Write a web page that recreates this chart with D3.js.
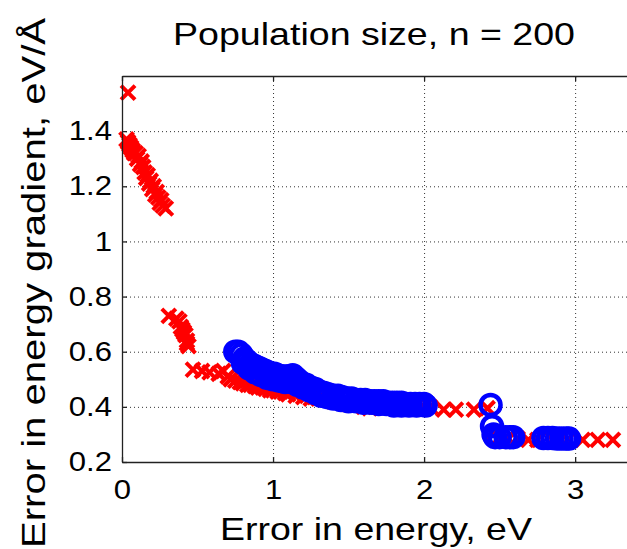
<!DOCTYPE html>
<html>
<head>
<meta charset="utf-8">
<script src="https://cdn.jsdelivr.net/npm/d3@7"></script>
<style>
  body { margin: 0; background: #fff; }
  svg text { font-family: "Liberation Sans", Arial, sans-serif; fill: #000; }
</style>
</head>
<body>
<svg id="chart" width="627" height="549"></svg>
<script>
// red crosses (x = error in energy, y = error in gradient)
var redX = [0.04,
  0.03, 0.04, 0.05, 0.06, 0.07, 0.08, 0.09, 0.10, 0.11, 0.12, 0.13, 0.14, 0.15, 0.16, 0.17, 0.18, 0.19, 0.20, 0.21, 0.22, 0.23, 0.24, 0.25, 0.26, 0.27, 0.29,
  0.31, 0.36, 0.38, 0.39, 0.40, 0.41, 0.42, 0.43, 0.43, 0.44,
  0.47, 0.53, 0.58, 0.64, 0.67, 0.70, 0.72, 0.75, 0.78, 0.80, 0.83, 0.85, 0.88, 0.90, 0.93, 0.95, 0.98, 1.00, 1.03, 1.05, 1.08, 1.10, 1.15, 1.20, 1.25, 1.30, 1.40, 1.50,
  1.60, 1.64, 1.70, 1.80, 1.90, 2.00, 2.04, 2.13, 2.21, 2.33, 2.42,
  2.46, 2.50, 2.56, 2.62, 2.69, 2.75, 2.85, 2.95, 3.05, 3.15, 3.25];
var redY = [1.54,
  1.37, 1.36, 1.35, 1.34, 1.33, 1.32, 1.32, 1.30, 1.31, 1.28, 1.29, 1.27, 1.25, 1.23, 1.24, 1.21, 1.22, 1.19, 1.20, 1.17, 1.18, 1.16, 1.14, 1.15, 1.13, 1.12,
  0.73, 0.72, 0.71, 0.69, 0.68, 0.67, 0.66, 0.64, 0.63, 0.62,
  0.535, 0.53, 0.525, 0.52, 0.53, 0.51, 0.50, 0.495, 0.49, 0.485, 0.48, 0.48, 0.475, 0.47, 0.47, 0.465, 0.46, 0.46, 0.455, 0.455, 0.45, 0.445, 0.44, 0.435, 0.43, 0.43, 0.42, 0.41,
  0.40, 0.395, 0.40, 0.40, 0.40, 0.40, 0.40, 0.39, 0.39, 0.39, 0.395,
  0.305, 0.29, 0.285, 0.285, 0.28, 0.28, 0.28, 0.28, 0.28, 0.28, 0.28];

// blue open circles
var blueX = [0.75, 0.77, 0.79, 0.81, 0.83, 0.85, 0.87, 0.89, 0.91, 0.93, 0.95, 0.97, 0.99, 1.01, 1.03, 1.05, 1.07, 1.09, 1.11, 1.13,
  1.15, 1.17, 1.19, 1.22, 1.25, 1.28, 1.31, 1.34, 1.37, 1.40, 1.43, 1.46, 1.49, 1.52, 1.55, 1.58, 1.61, 1.64, 1.67, 1.70,
  1.73, 1.76, 1.79, 1.82, 1.85, 1.88, 1.91, 1.94, 1.97, 2.00,
  0.80, 0.84, 0.88, 0.92, 0.96, 1.00, 1.04, 1.08, 1.12, 1.16, 1.20, 1.24, 1.28, 1.32, 1.36, 1.40, 1.45, 1.50, 1.55, 1.60,
  1.65, 1.70, 1.75, 1.80, 1.85, 1.90, 1.95, 2.01,
  2.44, 2.45, 2.46, 2.47, 2.50, 2.54, 2.57, 2.59,
  2.79, 2.82, 2.85, 2.88, 2.91, 2.94, 2.96];
var blueY = [0.60, 0.60, 0.59, 0.575, 0.565, 0.555, 0.55, 0.545, 0.54, 0.535, 0.53, 0.525, 0.52, 0.52, 0.515, 0.51, 0.51, 0.51, 0.51, 0.515,
  0.505, 0.495, 0.485, 0.48, 0.47, 0.465, 0.455, 0.45, 0.445, 0.44, 0.44, 0.435, 0.43, 0.43, 0.425, 0.425, 0.425, 0.42, 0.42, 0.42,
  0.42, 0.415, 0.415, 0.415, 0.415, 0.41, 0.41, 0.41, 0.41, 0.41,
  0.56, 0.54, 0.525, 0.515, 0.505, 0.50, 0.495, 0.49, 0.49, 0.48, 0.47, 0.46, 0.45, 0.44, 0.435, 0.43, 0.425, 0.42, 0.42, 0.415,
  0.415, 0.41, 0.41, 0.405, 0.405, 0.405, 0.405, 0.405,
  0.407, 0.33, 0.30, 0.29, 0.29, 0.29, 0.29, 0.29,
  0.287, 0.287, 0.287, 0.285, 0.285, 0.285, 0.285];

var xTicks = [0, 1, 2, 3];
var xTickLabels = ["0", "1", "2", "3"];
var yTicks = [0.2, 0.4, 0.6, 0.8, 1.0, 1.2, 1.4];
var yTickLabels = ["0.2", "0.4", "0.6", "0.8", "1", "1.2", "1.4"];

var svg = d3.select("#chart");
// plot box edges (window.top is taken, so use other names)
var boxL = 122, boxR = 628, boxT = 76, boxB = 462;

var x = d3.scaleLinear().domain([0, 3.35]).range([boxL, boxR]);
var y = d3.scaleLinear().domain([0.2, 1.6]).range([boxB, boxT]);

// stretch text sideways, the original font renders wider than ours
function widen(sel, k) {
  sel.each(function () {
    var w = this.getComputedTextLength();
    d3.select(this).attr("textLength", w * k).attr("lengthAdjust", "spacingAndGlyphs");
  });
}

// dotted grid
var gx = svg.append("g").attr("transform", "translate(0," + boxB + ")")
  .call(d3.axisBottom(x).tickValues(xTicks.filter(function (d) { return d > 0; }))
    .tickSize(-(boxB - boxT)).tickFormat(""));
var gy = svg.append("g").attr("transform", "translate(" + boxL + ",0)")
  .call(d3.axisLeft(y).tickValues(yTicks.filter(function (d) { return d > 0.2; }))
    .tickSize(-(boxR - boxL)).tickFormat(""));
[gx, gy].forEach(function (g) {
  g.select(".domain").remove();
  g.selectAll("line").attr("stroke", "#333").attr("stroke-dasharray", "1,3").attr("stroke-width", 1);
});

// red crosses
var arm = 7;
svg.append("g").selectAll("path").data(redX).enter().append("path")
  .attr("d", function (d, i) {
    var cx = x(d), cy = y(redY[i]);
    return "M" + (cx - arm) + "," + (cy - arm) + "L" + (cx + arm) + "," + (cy + arm) +
      "M" + (cx - arm) + "," + (cy + arm) + "L" + (cx + arm) + "," + (cy - arm);
  })
  .attr("stroke", "#ff0000").attr("stroke-width", 4).attr("fill", "none");

// blue circles
svg.append("g").selectAll("circle").data(blueX).enter().append("circle")
  .attr("cx", function (d) { return x(d); })
  .attr("cy", function (d, i) { return y(blueY[i]); })
  .attr("r", 10)
  .attr("fill", "none").attr("stroke", "#0000ff").attr("stroke-width", 4.5);

// axes, ticks pointing inward
var ax = svg.append("g").attr("transform", "translate(0," + boxB + ")")
  .call(d3.axisBottom(x).tickValues(xTicks).tickSizeInner(-5).tickSizeOuter(0).tickPadding(18)
    .tickFormat(function (d, i) { return xTickLabels[i]; }));
var ay = svg.append("g").attr("transform", "translate(" + boxL + ",0)")
  .call(d3.axisLeft(y).tickValues(yTicks).tickSizeInner(-5).tickSizeOuter(0).tickPadding(10)
    .tickFormat(function (d, i) { return yTickLabels[i]; }));
var at = svg.append("g").attr("transform", "translate(0," + boxT + ")")
  .call(d3.axisTop(x).tickValues(xTicks).tickSizeInner(-5).tickSizeOuter(0).tickFormat(""));
[ax, ay, at].forEach(function (g) {
  g.select(".domain").attr("stroke", "#222").attr("stroke-width", 1.3);
  g.selectAll("line").attr("stroke", "#222").attr("stroke-width", 1.3);
  g.selectAll("text").attr("font-size", 27).attr("font-family", "Liberation Sans, Arial, sans-serif").attr("fill", "#000");
});
widen(ax.selectAll("text"), 1.15);
widen(ay.selectAll("text"), 1.15);

// titles
svg.append("text").attr("x", 374).attr("y", 45).attr("text-anchor", "middle")
  .attr("font-size", 32).attr("textLength", 402).attr("lengthAdjust", "spacingAndGlyphs")
  .text("Population size, n = 200");
svg.append("text").attr("x", 376).attr("y", 540).attr("text-anchor", "middle")
  .attr("font-size", 32).attr("textLength", 312).attr("lengthAdjust", "spacingAndGlyphs")
  .text("Error in energy, eV");
svg.append("text").attr("transform", "translate(45,283) rotate(-90)").attr("text-anchor", "middle")
  .attr("font-size", 33).attr("textLength", 530).attr("lengthAdjust", "spacingAndGlyphs")
  .text("Error in energy gradient, eV/Å");
</script>
</body>
</html>
